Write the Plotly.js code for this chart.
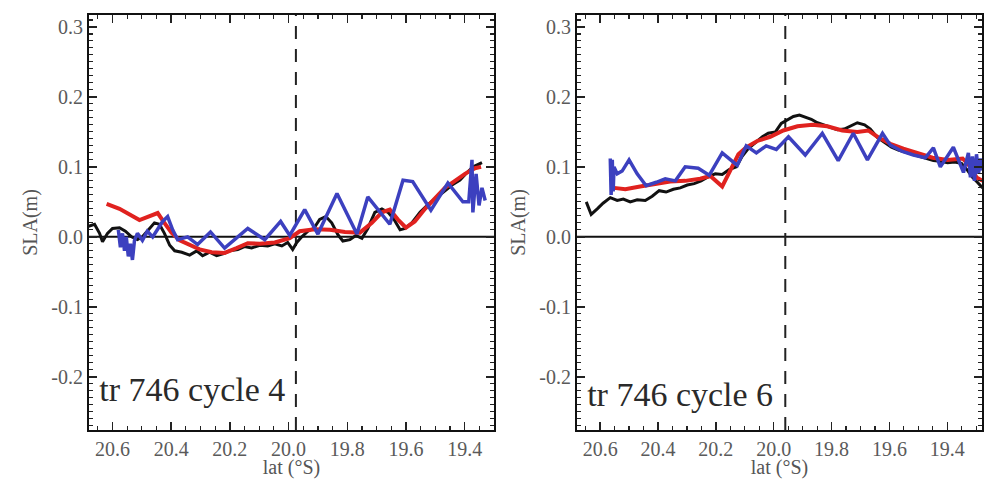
<!DOCTYPE html>
<html>
<head>
<meta charset="utf-8">
<script src="https://cdn.plot.ly/plotly-3.0.1.min.js"></script>
<style>html,body{margin:0;padding:0;background:#fff;}#chart{width:987px;height:479px;}</style>
</head>
<body>
<div id="chart"></div>
<script>
// ---------- Panel a: track 746 cycle 4 ----------
const latA_black = [20.682,20.661,20.644,20.634,20.617,20.600,20.576,20.556,20.535,20.515,20.498,20.474,20.457,20.440,20.423,20.405,20.388,20.364,20.337,20.313,20.293,20.269,20.245,20.221,20.201,20.173,20.150,20.126,20.098,20.071,20.047,20.023,20.003,19.986,19.972,19.955,19.934,19.914,19.894,19.873,19.853,19.832,19.815,19.791,19.771,19.750,19.730,19.706,19.682,19.661,19.641,19.620,19.603,19.580,19.552,19.525,19.498,19.470,19.443,19.416,19.392,19.371,19.354,19.341];
const slaA_black = [0.015,0.018,0.005,-0.007,0.005,0.012,0.013,0.008,0.0,-0.004,0.0,0.012,0.02,0.018,0.005,-0.012,-0.02,-0.022,-0.026,-0.02,-0.027,-0.022,-0.027,-0.024,-0.02,-0.018,-0.014,-0.016,-0.012,-0.013,-0.01,-0.013,-0.008,-0.018,-0.008,0.0,0.008,0.012,0.025,0.029,0.02,0.003,-0.006,-0.004,0.002,-0.002,0.012,0.035,0.04,0.035,0.025,0.01,0.012,0.02,0.035,0.046,0.055,0.065,0.074,0.081,0.092,0.1,0.104,0.106];

const latA_red = [20.620,20.576,20.508,20.474,20.446,20.423,20.399,20.371,20.337,20.303,20.262,20.218,20.177,20.139,20.098,20.047,19.996,19.962,19.911,19.859,19.808,19.757,19.716,19.682,19.655,19.628,19.600,19.570,19.535,19.501,19.467,19.433,19.399,19.365,19.344];
const slaA_red = [0.047,0.04,0.024,0.03,0.034,0.02,0.006,-0.005,-0.012,-0.018,-0.022,-0.023,-0.016,-0.009,-0.01,-0.008,-0.002,0.008,0.011,0.01,0.007,0.006,0.02,0.035,0.039,0.025,0.013,0.022,0.04,0.055,0.07,0.08,0.09,0.098,0.1];

const latA_blue = [20.580,20.573,20.566,20.559,20.553,20.546,20.539,20.532,20.525,20.515,20.498,20.481,20.463,20.446,20.429,20.412,20.395,20.378,20.344,20.310,20.266,20.218,20.139,20.081,20.027,19.996,19.945,19.900,19.835,19.767,19.730,19.655,19.610,19.577,19.515,19.457,19.406,19.386,19.375,19.372,19.361,19.351,19.341,19.330];
const slaA_blue = [0.01,-0.015,0.005,-0.02,0.0,-0.028,-0.01,-0.033,-0.005,0.005,-0.005,0.008,0.0,0.01,0.022,0.029,0.01,-0.004,0.0,-0.011,0.007,-0.016,0.012,-0.004,0.022,0.002,0.039,0.004,0.062,0.004,0.057,0.018,0.081,0.079,0.038,0.077,0.05,0.05,0.11,0.035,0.09,0.045,0.07,0.052];

// ---------- Panel b: track 746 cycle 6 ----------
const latB_black = [20.648,20.638,20.631,20.610,20.590,20.565,20.541,20.520,20.496,20.472,20.444,20.420,20.396,20.372,20.347,20.323,20.299,20.275,20.251,20.226,20.202,20.178,20.154,20.129,20.109,20.088,20.064,20.039,20.019,19.994,19.974,19.953,19.932,19.911,19.891,19.870,19.849,19.828,19.804,19.780,19.756,19.735,19.711,19.686,19.666,19.642,19.617,19.593,19.569,19.545,19.520,19.496,19.472,19.448,19.424,19.399,19.375,19.351,19.330,19.313,19.296,19.278];
const slaB_black = [0.05,0.04,0.032,0.04,0.048,0.056,0.052,0.054,0.05,0.053,0.052,0.058,0.066,0.064,0.068,0.07,0.074,0.076,0.08,0.086,0.09,0.089,0.096,0.1,0.115,0.126,0.134,0.143,0.148,0.15,0.162,0.167,0.172,0.174,0.171,0.168,0.163,0.16,0.157,0.153,0.154,0.158,0.163,0.16,0.154,0.142,0.135,0.128,0.124,0.121,0.117,0.114,0.112,0.109,0.108,0.106,0.107,0.105,0.095,0.085,0.078,0.07];

const latB_red = [20.552,20.513,20.462,20.410,20.358,20.306,20.254,20.219,20.199,20.178,20.150,20.122,20.095,20.057,20.012,19.967,19.918,19.866,19.815,19.763,19.711,19.673,19.638,19.597,19.552,19.503,19.451,19.399,19.347,19.320,19.299,19.278];
const slaB_red = [0.07,0.068,0.072,0.076,0.079,0.08,0.083,0.087,0.08,0.072,0.095,0.118,0.128,0.137,0.143,0.152,0.158,0.16,0.158,0.152,0.15,0.152,0.142,0.133,0.126,0.119,0.113,0.11,0.112,0.1,0.085,0.08];

const latB_blue = [20.565,20.562,20.558,20.555,20.552,20.541,20.524,20.500,20.472,20.441,20.406,20.375,20.340,20.306,20.261,20.223,20.178,20.126,20.095,20.060,20.026,19.991,19.949,19.891,19.832,19.777,19.725,19.676,19.624,19.597,19.555,19.517,19.476,19.448,19.424,19.399,19.379,19.344,19.327,19.320,19.313,19.306,19.299,19.292,19.285,19.278];
const slaB_blue = [0.112,0.06,0.11,0.065,0.1,0.09,0.094,0.11,0.09,0.073,0.078,0.083,0.08,0.1,0.098,0.088,0.12,0.102,0.13,0.12,0.13,0.125,0.143,0.117,0.148,0.109,0.148,0.11,0.148,0.131,0.122,0.117,0.113,0.127,0.1,0.115,0.128,0.092,0.12,0.085,0.115,0.08,0.118,0.09,0.112,0.095];

// ---------- axes, reference lines and labels ----------
const xRangeA = [20.68, 19.30];
const xRangeB = [20.68, 19.28];
const yRange = [-0.276, 0.317];
const dashLatA = 19.975;
const dashLatB = 19.96;
const xTickVals = [20.6,20.4,20.2,20.0,19.8,19.6,19.4];
const xTickText = ['20.6','20.4','20.2','20.0','19.8','19.6','19.4'];
const yTickVals = [-0.2,-0.1,0.0,0.1,0.2,0.3];
const yTickText = ['-0.2','-0.1','0.0','0.1','0.2','0.3'];
const panelLabels = ['a)','b)'];
const panelNotes = ['tr 746 cycle 4','tr 746 cycle 6'];
const yTitle = 'SLA(m)';
const xTitle = 'lat (°S)';
// label anchor positions in each panel's own (lat, SLA) coordinates
const labelPosA = {lat: 20.868, sla: 0.291};
const labelPosB = {lat: 20.887, sla: 0.298};
const notePosA = {lat: 20.645, sla: -0.222};
const notePosB = {lat: 20.645, sla: -0.229};

const W = 987, H = 479;
const px = v => v / W, py = v => 1 - v / H;

const cBlack = '#111111', cRed = '#e0221f', cBlue = '#3c40bf';
const serif = 'Liberation Serif, Times New Roman, serif';

function xMinorVals() { const a = []; for (let i = 385; i <= 414; i++) a.push(Math.round(i * 5) / 100); return a; }
function yMinorVals() { const a = []; for (let i = -27; i <= 31; i++) a.push(i / 100); return a; }

function line(x, y, color, width, xa, ya, dash) {
  return {x: x, y: y, type: 'scatter', mode: 'lines', xaxis: xa, yaxis: ya,
          line: {color: color, width: width, dash: dash || 'solid'}, hoverinfo: 'skip', showlegend: false};
}
function label(text, pos, font, where, xa, ya) {
  return {x: [pos.lat], y: [pos.sla], text: [text], type: 'scatter', mode: 'text', textposition: where,
          textfont: font, cliponaxis: false, xaxis: xa, yaxis: ya, hoverinfo: 'skip', showlegend: false};
}
const boldSans = () => ({family: 'Liberation Sans, Arial, sans-serif', size: 38, color: '#111', weight: 'bold'});
const noteFont = () => ({family: serif, size: 34, color: '#2a2a2a'});

const traces = [
  // zero lines and the dashed reference latitude
  line(xRangeA.slice(), [0, 0], '#111', 2, 'x', 'y'),
  line([dashLatA, dashLatA], yRange.slice(), '#222', 2, 'x', 'y', '13px,10px'),
  line(xRangeB.slice(), [0, 0], '#111', 2, 'x2', 'y2'),
  line([dashLatB, dashLatB], yRange.slice(), '#222', 2, 'x2', 'y2', '13px,10px'),
  // data
  line(latA_black, slaA_black, cBlack, 3, 'x', 'y'),
  line(latA_red, slaA_red, cRed, 4, 'x', 'y'),
  line(latA_blue, slaA_blue, cBlue, 3.5, 'x', 'y'),
  line(latB_black, slaB_black, cBlack, 3, 'x2', 'y2'),
  line(latB_red, slaB_red, cRed, 4, 'x2', 'y2'),
  line(latB_blue, slaB_blue, cBlue, 3.5, 'x2', 'y2'),
  // panel letters and track notes
  label(panelLabels[0], labelPosA, boldSans(), 'middle center', 'x', 'y'),
  label(panelLabels[1], labelPosB, boldSans(), 'middle center', 'x2', 'y2'),
  label(panelNotes[0], notePosA, noteFont(), 'middle right', 'x', 'y'),
  label(panelNotes[1], notePosB, noteFont(), 'middle right', 'x2', 'y2')
];

function tickFont() { return {family: serif, size: 20, color: '#5a5a5a'}; }
function xAxis(domain, range, anchor) {
  return {domain: domain, range: range.slice(), anchor: anchor, tickmode: 'array', tickvals: xTickVals.slice(), ticktext: xTickText.slice(),
          ticks: 'inside', ticklen: 8, tickwidth: 1.5, tickcolor: '#222', showline: true, linecolor: '#111', linewidth: 2,
          mirror: 'ticks', showgrid: false, zeroline: false, tickfont: tickFont(),
          title: {text: xTitle, font: {family: serif, size: 20, color: '#555'}, standoff: 0},
          minor: {tickmode: 'array', tickvals: xMinorVals(), ticks: 'inside', ticklen: 4, tickwidth: 1.2, tickcolor: '#222', showgrid: false}};
}
function yAxis(domain, anchor) {
  return {domain: domain, range: yRange.slice(), anchor: anchor, tickmode: 'array', tickvals: yTickVals.slice(), ticktext: yTickText.slice(),
          ticks: 'inside', ticklen: 8, tickwidth: 1.5, tickcolor: '#222', showline: true, linecolor: '#111', linewidth: 2,
          mirror: 'ticks', showgrid: false, zeroline: false, tickfont: tickFont(),
          title: {text: yTitle, font: {family: serif, size: 20, color: '#555'}, standoff: 8},
          minor: {tickmode: 'array', tickvals: yMinorVals(), ticks: 'inside', ticklen: 4, tickwidth: 1.2, tickcolor: '#222', showgrid: false}};
}

const layout = {
  width: W, height: H, margin: {l: 0, r: 0, t: 0, b: 0},
  paper_bgcolor: '#fff', plot_bgcolor: '#fff', showlegend: false,
  xaxis: xAxis([px(89), px(494)], xRangeA, 'y'),
  yaxis: yAxis([py(430), py(15)], 'x'),
  xaxis2: xAxis([px(577), px(982)], xRangeB, 'y2'),
  yaxis2: yAxis([py(430), py(15)], 'x2')
};

Plotly.newPlot('chart', traces, layout, {staticPlot: true, displayModeBar: false});
</script>
</body>
</html>
